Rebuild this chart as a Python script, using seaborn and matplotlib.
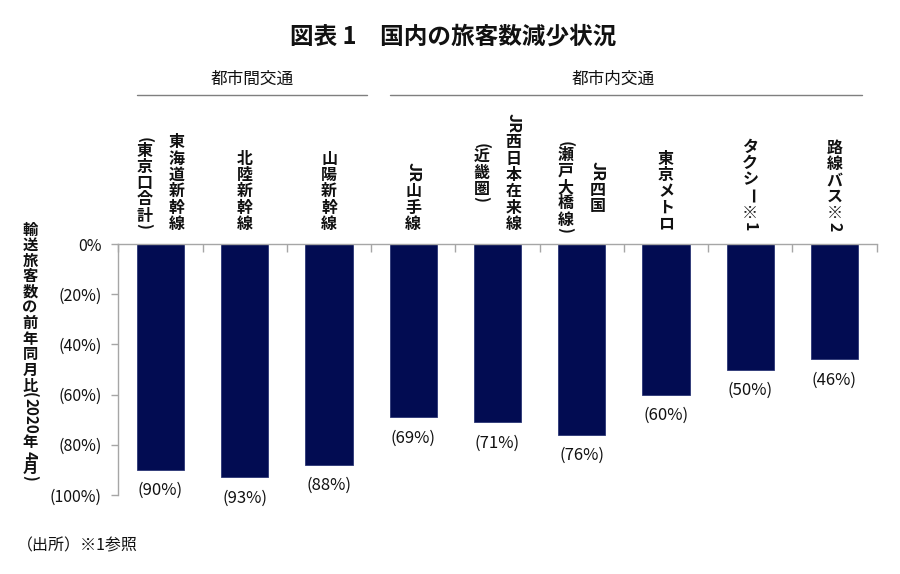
import matplotlib
matplotlib.use('Agg')
import matplotlib.pyplot as plt
import matplotlib.transforms as mtransforms
import numpy as np
import pandas as pd
import seaborn as sns

# Data
lines = ['東海道新幹線', '北陸新幹線', '山陽新幹線', 'JR山手線', 'JR西日本在来線',
         'JR四国', '東京メトロ', 'タクシー※1', '路線バス※2']
sub_lines = ['(東京口合計)', '', '', '', '(近畿圏)', '(瀬戸大橋線)', '', '', '']
change = [-90, -93, -88, -69, -71, -76, -60, -50, -46]
groups = ['都市間交通', '都市内交通']
group_spans = [(-0.28, 2.45), (2.72, 8.33)]
group_label_x = [1.09, 5.37]
y_ticks = [0, -20, -40, -60, -80, -100]
y_tick_labels = ['0%' if t == 0 else f'({abs(t)}%)' for t in y_ticks]
y_title = '輸送旅客数の前年同月比(2020年4月)'

sns.set_theme(style='white')
plt.rcParams['font.family'] = ['Noto Sans CJK JP', 'DejaVu Sans']

bar_color = '#020c52'
grey = '#a6a6a6'

fig, ax = plt.subplots(figsize=(9, 5.74), dpi=100)
fig.subplots_adjust(left=0.1316, right=0.974, bottom=0.1376, top=0.5749)

df = pd.DataFrame({'name': lines, 'change': change})
sns.barplot(data=df, x='name', y='change', color=bar_color, saturation=1,
            width=0.56, edgecolor='#2b3575', linewidth=0.6, ax=ax)

ax.set_xlim(-0.5, 8.5)
ax.set_ylim(-100, 0)
ax.set_xlabel('')
ax.set_ylabel('')

for side in ['right', 'bottom']:
    ax.spines[side].set_visible(False)
for side in ['top', 'left']:
    ax.spines[side].set_color(grey)
    ax.spines[side].set_linewidth(1)

# zero line on top with category separators pointing down
ax.xaxis.tick_top()
ax.set_xticks(np.arange(-0.5, len(lines) + 0.5, 1))
ax.set_xticklabels([])
ax.tick_params(axis='x', direction='in', length=6, color=grey, width=1,
               top=True, bottom=False)

ax.set_yticks(y_ticks)
ax.set_yticklabels(y_tick_labels)
ax.tick_params(axis='y', direction='out', length=5, color=grey, width=1,
               left=True, pad=7, labelsize=11.5, labelcolor='#111111')

# value labels under each bar
for i, v in enumerate(change):
    ax.annotate(f'({abs(v)}%)', xy=(i, v), xytext=(0, -15),
                textcoords='offset points', ha='center', va='center',
                fontsize=12, color='#111111')

renderer = fig.canvas.get_renderer()


def split_tokens(s):
    out = []
    buf = ''
    for ch in s:
        if ch.isascii() and ch.isalnum():
            buf += ch
            continue
        if buf:
            out.append((buf, True))
            buf = ''
        out.append((ch, ch in '()ー'))
    if buf:
        out.append((buf, True))
    return out


def token_size(tok, rotated, fs, weight):
    if not rotated:
        return fs * 1.02
    t = fig.text(0, 0, tok, fontsize=fs, fontweight=weight)
    w = t.get_window_extent(renderer).width * 72 / fig.dpi
    t.remove()
    if tok in '()':
        return w * 0.7
    return w + 1


def column_height(s, fs, weight):
    return sum(token_size(tok, rot, fs, weight) for tok, rot in split_tokens(s))


def draw_column(s, xy, xycoords, dx, cy, fs, weight):
    toks = split_tokens(s)
    sizes = [token_size(tok, rot, fs, weight) for tok, rot in toks]
    top = cy + sum(sizes) / 2
    for (tok, rot), h in zip(toks, sizes):
        ax.annotate(tok, xy=xy, xycoords=xycoords, xytext=(dx, top - h / 2),
                    textcoords='offset points', ha='center', va='center',
                    rotation=-90 if rot else 0, fontsize=fs,
                    fontweight=weight, color='#111111', annotation_clip=False)
        top -= h


# vertical category labels above the zero line
label_fs = 11.5
for i, (main, sub) in enumerate(zip(lines, sub_lines)):
    cols = [main] + ([sub] if sub else [])
    heights = [column_height(c, label_fs, 'bold') for c in cols]
    cy = 8.6 + max(heights) / 2
    offsets = [0] if len(cols) == 1 else [11.5, -11.5]
    for c, dx in zip(cols, offsets):
        draw_column(c, (i, 0), 'data', dx, cy, label_fs, 'bold')

# vertical y-axis title
draw_column(y_title, (30, 223), 'figure pixels', 0, 0, 11, 'bold')

# group headers with rules
trans = mtransforms.blended_transform_factory(ax.transData, ax.transAxes)
for name, (x0, x1), lx in zip(groups, group_spans, group_label_x):
    ax.plot([x0, x1], [1.594, 1.594], transform=trans, color='#7f7f7f',
            lw=1, clip_on=False)
    ax.text(lx, 1.655, name, transform=trans, ha='center', va='center',
            fontsize=12, color='#111111')

fig.text(0.503, 1 - 37 / 574, '図表 1\u3000国内の旅客数減少状況', ha='center',
         va='center', fontsize=17, fontweight='bold', color='#111111')
fig.text(17 / 900, 1 - 546 / 574, '（出所）※1参照', ha='left', va='center',
         fontsize=11.5, color='#111111')

fig.savefig('out.png', dpi=100)
